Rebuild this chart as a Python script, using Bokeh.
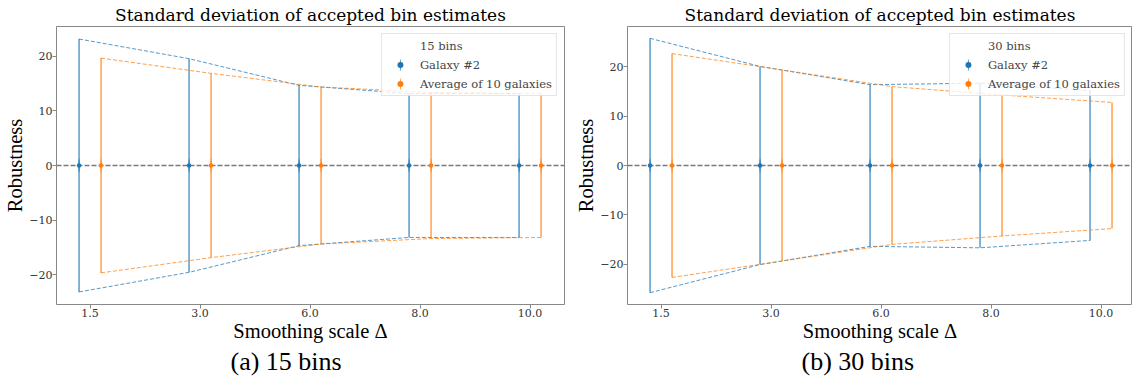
import numpy as np
from bokeh.plotting import figure
from bokeh.layouts import row
from bokeh.models import (FixedTicker, Span, Legend, LegendItem, Title,
                          ColumnDataSource)
from bokeh.embed import file_html
from bokeh.resources import INLINE

# ---------------- data ----------------
smoothing_idx = [0, 1, 2, 3, 4]
x_tick_labels = ["1.5", "3.0", "6.0", "8.0", "10.0"]
y_ticks = [-20, -10, 0, 10, 20]

galaxy_mean = [0, 0, 0, 0, 0]
average_mean = [0, 0, 0, 0, 0]

gal_std_15 = [23.2, 19.6, 14.7, 13.2, 13.2]
avg_std_15 = [19.7, 16.9, 14.4, 13.4, 13.2]

gal_std_30 = [25.8, 20.1, 16.4, 16.7, 15.2]
avg_std_30 = [22.7, 19.4, 16.0, 14.3, 12.8]

BLUE = "#1f77b4"
ORANGE = "#ff7f0e"
SERIF = "DejaVu Serif"
LABEL_FONT = "Liberation Serif"


def make_panel(gal_std, avg_std, bins_label, caption, ylim,
               border_left, frame_w, x_end, border_right):
    p = figure(frame_width=frame_w, frame_height=278,
               x_range=(-0.305, x_end), y_range=(-ylim, ylim),
               min_border_left=border_left, min_border_right=border_right,
               min_border_top=26, min_border_bottom=74,
               output_backend="svg", toolbar_location=None)
    p.xgrid.visible = False
    p.ygrid.visible = False
    p.outline_line_color = "#888888"
    p.outline_line_width = 1
    p.background_fill_color = "white"
    p.border_fill_color = "white"

    p.title.text = "Standard deviation of accepted bin estimates"
    p.title.align = "center"
    p.title.text_font = SERIF
    p.title.text_font_size = "17px"
    p.title.text_font_style = "normal"
    p.title.text_color = "black"
    p.title.standoff = 3

    zero = Span(location=0, dimension="width", line_color="#7a7a7a",
                line_dash="5 2", line_width=1.5, level="underlay")
    p.add_layout(zero)

    series = []
    for offs, mean, std, color in [(-0.1, galaxy_mean, gal_std, BLUE),
                                   (0.1, average_mean, avg_std, ORANGE)]:
        x = np.array(smoothing_idx, dtype=float) + offs
        m = np.array(mean, dtype=float)
        s = np.array(std, dtype=float)
        src = ColumnDataSource(dict(x=x, y=m, lo=m - s, hi=m + s))
        p.line("x", "hi", source=src, line_color=color, line_dash="4 2",
               line_width=1, line_alpha=0.75)
        p.line("x", "lo", source=src, line_color=color, line_dash="4 2",
               line_width=1, line_alpha=0.75)
        p.segment(x0="x", y0="lo", x1="x", y1="hi", source=src,
                  line_color=color, line_width=1.3, line_alpha=0.85)
        e = p.ellipse(x="x", y="y", width=1.3, height=14,
                      width_units="screen", height_units="screen",
                      source=src, fill_color=color, fill_alpha=0.85,
                      line_color=None)
        sc = p.scatter("x", "y", source=src, size=4.5, fill_color=color,
                       line_color=None)
        series.append((e, sc))

    title_r = p.scatter(x=[], y=[], fill_alpha=0, line_alpha=0)
    items = [
        LegendItem(label=bins_label, renderers=[title_r]),
        LegendItem(label="Galaxy #2", renderers=list(series[0])),
        LegendItem(label="Average of 10 galaxies", renderers=list(series[1])),
    ]
    legend = Legend(items=items, location="top_right", margin=7, padding=4,
                    spacing=4, glyph_width=28, glyph_height=15,
                    label_height=15, label_standoff=6,
                    label_text_font=SERIF, label_text_font_size="11.5px",
                    border_line_color="#cccccc", border_line_width=1,
                    background_fill_alpha=0.8)
    p.add_layout(legend)

    # axes
    p.xaxis.ticker = FixedTicker(ticks=smoothing_idx)
    p.xaxis.major_label_overrides = {i: lbl for i, lbl in zip(smoothing_idx, x_tick_labels)}
    p.yaxis.ticker = FixedTicker(ticks=y_ticks)
    p.yaxis.major_label_overrides = {t: (str(t).replace("-", "\u2212")) for t in y_ticks}
    for ax in (p.xaxis[0], p.yaxis[0]):
        ax.axis_line_color = None
        ax.major_tick_line_color = "#888888"
        ax.major_tick_out = 4
        ax.major_tick_in = 0
        ax.minor_tick_line_color = None
        ax.major_label_text_font = SERIF
        ax.major_label_text_font_size = "11px"
        ax.major_label_text_color = "#333333"
        ax.major_label_standoff = 0
        ax.axis_label_text_font = LABEL_FONT
        ax.axis_label_text_font_size = "20.5px"
        ax.axis_label_text_font_style = "normal"
        ax.axis_label_text_color = "black"
        ax.axis_label_standoff = 0
    p.xaxis.axis_label = "Smoothing scale \u0394"
    p.yaxis.axis_label = "Robustness"

    cap = Title(text=caption, align="left", offset=174, standoff=0,
                text_font=LABEL_FONT, text_font_size="26px",
                text_font_style="normal", text_color="black")
    p.add_layout(cap, "below")
    return p


p1 = make_panel(gal_std_15, avg_std_15, "15 bins", "(a) 15 bins", 25.5,
                56, 508, 4.313, 2)
p2 = make_panel(gal_std_30, avg_std_30, "30 bins", "(b) 30 bins", 28.2,
                61, 505, 4.286, 0)

layout = row(p1, p2)
open("out.html", "w").write(file_html(layout, INLINE))
